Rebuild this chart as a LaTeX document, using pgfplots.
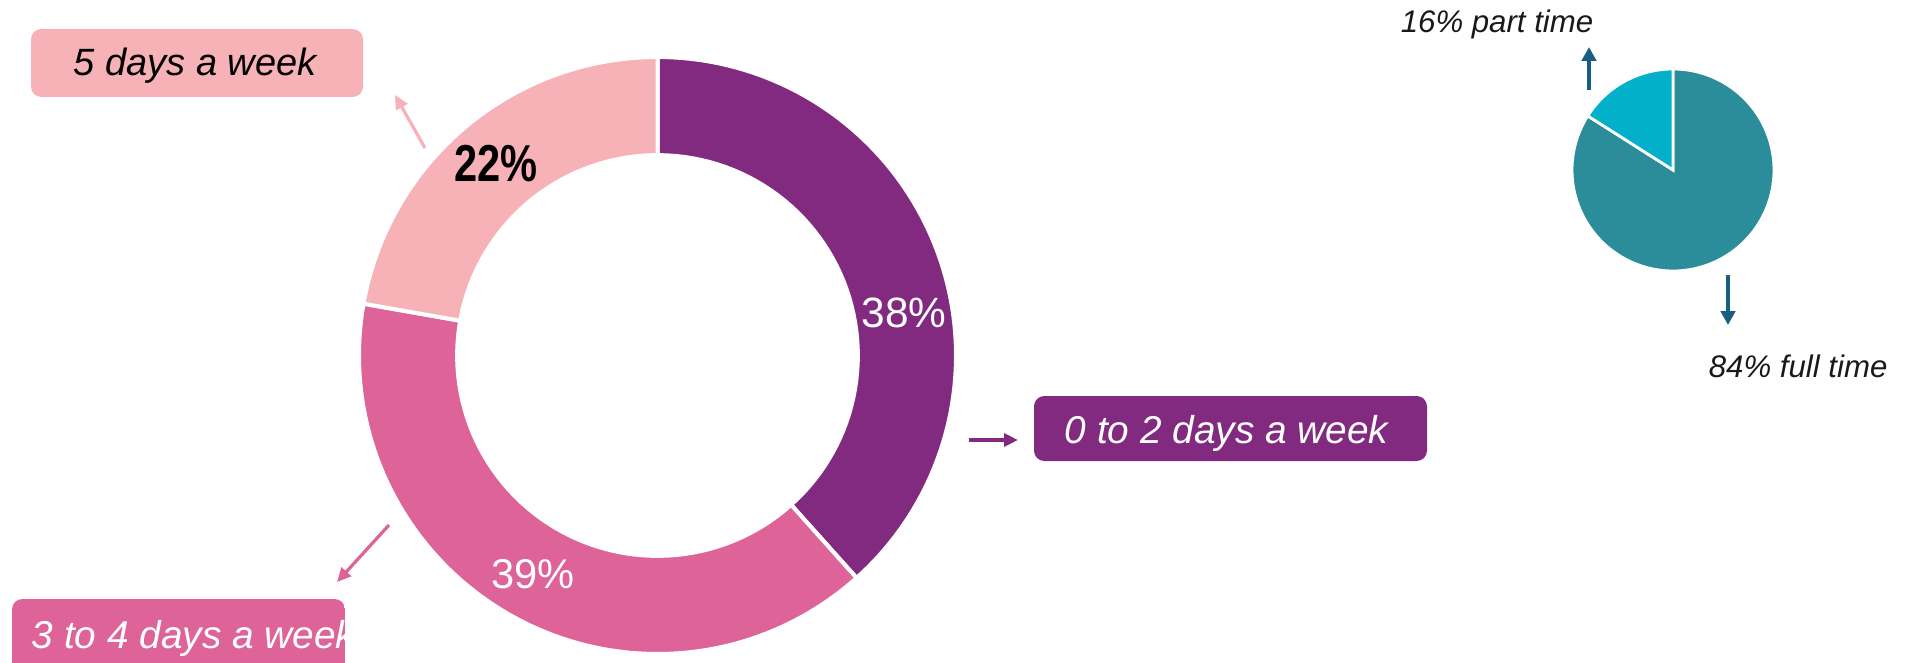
\documentclass[border=0pt]{standalone}
\usepackage{pgfplots}
\pgfplotsset{compat=1.18}
\usepackage{fontspec}
\setmainfont{Liberation Sans}
\usetikzlibrary{arrows.meta}
\definecolor{cPurple}{HTML}{812A80}
\definecolor{cPink}{HTML}{DD6399}
\definecolor{cLight}{HTML}{F6B2B7}
\definecolor{cTeal}{HTML}{2C8D9A}
\definecolor{cCyan}{HTML}{02B1C9}
\definecolor{cArrow}{HTML}{175E82}
\begin{document}
\begin{tikzpicture}
\path[use as bounding box] (0pt,0pt) rectangle (479pt,-165.75pt);
% donut: 38% (0-2 days), 39% (3-4 days), 22% (5 days)
\begin{axis}[at={(164.375pt,-88.875pt)}, anchor=center,
  width=149.25pt, height=149.25pt, scale only axis,
  xmin=-1, xmax=1, ymin=-1, ymax=1, hide axis, clip=false]
  \addplot[fill=cPurple, draw=white, line width=1pt, domain=90:{90-38/99*360}, samples=90, data cs=polar] ({x},{1}) -- (axis cs:0,0) -- cycle;
  \addplot[fill=cPink, draw=white, line width=1pt, domain={90-38/99*360}:{90-77/99*360}, samples=90, data cs=polar] ({x},{1}) -- (axis cs:0,0) -- cycle;
  \addplot[fill=cLight, draw=white, line width=1pt, domain={90-77/99*360}:{-270}, samples=60, data cs=polar] ({x},{1}) -- (axis cs:0,0) -- cycle;
  \addplot[fill=white, draw=none, domain=0:360, samples=150, data cs=polar] ({x},{0.678});
\end{axis}
% pie: 16% part time, 84% full time
\begin{axis}[at={(418.25pt,-42.5pt)}, anchor=center,
  width=50.5pt, height=50.5pt, scale only axis,
  xmin=-1, xmax=1, ymin=-1, ymax=1, hide axis, clip=false]
  \addplot[fill=cTeal, draw=white, line width=0.7pt, domain={90+16*3.6}:450, samples=120, data cs=polar] ({x},{1}) -- (axis cs:0,0) -- cycle;
  \addplot[fill=cCyan, draw=white, line width=0.7pt, domain=90:{90+16*3.6}, samples=40, data cs=polar] ({x},{1}) -- (axis cs:0,0) -- cycle;
\end{axis}
\begin{scope}[x=0.25pt, y=-0.25pt]
  % 5 days a week
  \fill[cLight, rounded corners=2.6pt] (31,29) rectangle (363,97);
  \node[anchor=base west, inner sep=0pt, font=\fontsize{9.5pt}{11pt}\selectfont\itshape] at (73,76) {5 days a week};
  \draw[cLight, line width=0.8pt, -{Triangle[length=3.5pt, width=3.2pt]}] (425,148) -- (395,95);
  \node[inner sep=0pt, xscale=0.8, font=\fontsize{13pt}{15pt}\selectfont\bfseries] at (496,164) {22\%};
  \node[inner sep=0pt, text=white, font=\fontsize{10.6pt}{12pt}\selectfont] at (904,313) {38\%};
  \node[inner sep=0pt, text=white, font=\fontsize{10.4pt}{12pt}\selectfont] at (533,574) {39\%};
  % 0 to 2 days
  \draw[cPurple, line width=0.8pt, -{Triangle[length=3.5pt, width=3.2pt]}] (969,440) -- (1018,440);
  \fill[cPurple, rounded corners=2.6pt] (1034,396) rectangle (1427,461);
  \node[anchor=base west, inner sep=0pt, text=white, font=\fontsize{9.7pt}{11pt}\selectfont\itshape] at (1064,443) {0 to 2 days a week};
  % 3 to 4 days
  \draw[cPink, line width=0.8pt, -{Triangle[length=3.5pt, width=3.2pt]}] (389,525) -- (337,582);
  \begin{scope}
    \clip[rounded corners=2.6pt] (12,599) rectangle (345,672);
    \fill[cPink] (12,599) rectangle (345,672);
    \node[anchor=base west, inner sep=0pt, text=white, font=\fontsize{9.7pt}{11pt}\selectfont\itshape] at (31,648) {3 to 4 days a week};
  \end{scope}
  % pie labels
  \node[anchor=base west, inner sep=0pt, text=black!90, font=\fontsize{7.8pt}{9pt}\selectfont\itshape] at (1400,33) {16\% part time};
  \draw[cArrow, line width=1pt, -{Triangle[length=3.5pt, width=3.6pt]}] (1589,90) -- (1589,47);
  \draw[cArrow, line width=1pt, -{Triangle[length=3.5pt, width=3.6pt]}] (1728,275) -- (1728,325);
  \node[anchor=base west, inner sep=0pt, text=black!90, font=\fontsize{7.8pt}{9pt}\selectfont\itshape] at (1708,377) {84\% full time};
\end{scope}
\end{tikzpicture}
\end{document}
